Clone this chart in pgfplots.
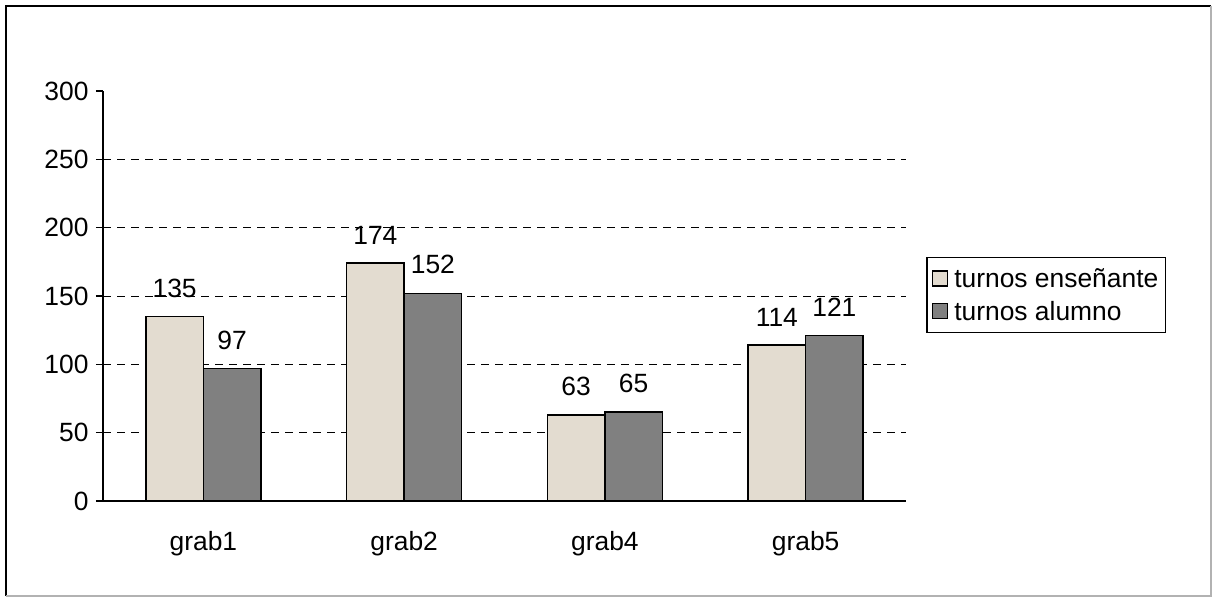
\documentclass[border=0pt]{standalone}
\usepackage{pgfplots}
\pgfplotsset{compat=1.18}
\usepackage{fontspec}
\setmainfont{Liberation Sans}

\definecolor{beige}{RGB}{227,220,208}
\definecolor{midgray}{RGB}{128,128,128}

\begin{document}
\begin{tikzpicture}
\useasboundingbox (-103bp,-96bp) rectangle (1110bp,501bp);
\draw[line width=1.5bp] (-97bp,-95bp) -- (-97bp,495bp) -- (1108bp,495bp);
\draw[line width=1.5bp, gray!60] (-97bp,-95bp) -- (1108bp,-95bp) -- (1108bp,495bp);
\begin{axis}[
  at={(0bp,0bp)}, anchor=south west,
  scale only axis, width=803bp, height=410bp,
  font=\fontsize{26.5}{30}\selectfont,
  /pgf/number format/assume math mode=true,
  ybar=0pt, bar width=57.5bp,
  xmin=0.5, xmax=4.5, ymin=0, ymax=300,
  axis x line*=bottom, axis y line*=left,
  axis line style={line width=1.5bp, black},
  xtick={1,2,3,4}, xticklabels={grab1,grab2,grab4,grab5},
  x tick style={draw=none},
  extra x ticks={0.5,1.5,2.5,3.5,4.5}, extra x tick labels={},
  extra x tick style={tick style={draw=black, line width=1.5bp}},
  xticklabel style={yshift=-20bp},
  ytick={0,50,...,300},
  y tick style={line width=1.5bp, black},
  extra y ticks={50,100,150,200,250}, extra y tick labels={},
  extra y tick style={grid=major, major tick length=0pt},
  grid style={dashed, line width=0.8bp, black, dash pattern=on 8bp off 6bp},
  tick align=outside, major tick length=7bp,
  yticklabel style={xshift=-4bp},
  nodes near coords,
  nodes near coords style={font=\fontsize{26.5}{30}\selectfont, yshift=15bp},
  legend style={at={(1.025,0.502)}, anchor=west, draw=black, line width=1.5bp,
    font=\fontsize{26.5}{30}\selectfont, row sep=8bp, column sep=4bp,
    inner xsep=5bp, inner ysep=9bp,
    cells={anchor=west}},
  legend image code/.code={\draw[#1, draw=black, line width=1.5bp] (0bp,-7bp) rectangle (15bp,8bp);},
]
\addplot[fill=beige, draw=black, line width=1.5bp] coordinates {(1,135) (2,174) (3,63) (4,114)};
\addplot[fill=midgray, draw=black, line width=1.5bp] coordinates {(1,97) (2,152) (3,65) (4,121)};
\legend{turnos enseñante, turnos alumno}
\end{axis}
\end{tikzpicture}
\end{document}
